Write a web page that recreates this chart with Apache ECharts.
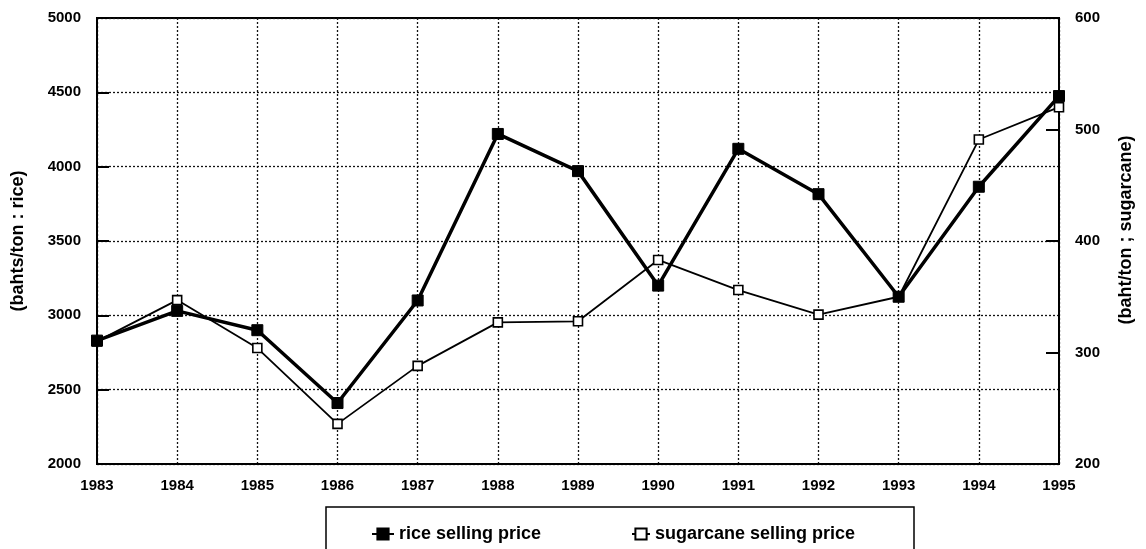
<!DOCTYPE html>
<html>
<head>
<meta charset="utf-8">
<script src="https://cdn.jsdelivr.net/npm/echarts@6/dist/echarts.min.js"></script>
<style>
  html, body { margin: 0; padding: 0; background: #fff; }
  #chart { width: 1146px; height: 549px; }
</style>
</head>
<body>
<div id="chart"></div>
<script>
  // data
  const years = ['1983', '1984', '1985', '1986', '1987', '1988', '1989', '1990', '1991', '1992', '1993', '1994', '1995'];
  const ricePrice = [2830, 3030, 2900, 2410, 3100, 4220, 3970, 3200, 4120, 3815, 3125, 3865, 4475];
  const sugarcanePrice = [310, 347, 304, 236, 288, 327, 328, 383, 356, 334, 350, 491, 520];

  const FONT = '"Liberation Sans", Arial, sans-serif';
  const chart = echarts.init(document.getElementById('chart'));

  const tickLabel = { color: '#000', fontFamily: FONT, fontWeight: 'bold', fontSize: 15, formatter: v => String(v) };
  const dotted = { show: true, lineStyle: { color: '#111', width: 1.3, type: [2, 2] } };
  const legendText = { color: '#000', fontFamily: FONT, fontWeight: 'bold', fontSize: 18 };

  const option = {
    backgroundColor: '#fff',
    animation: false,
    grid: {
      left: 97, right: 87, top: 18, bottom: 85,
      show: true, borderColor: '#000', borderWidth: 2
    },
    // two legends so each item sits where it does in the scan
    legend: [
      {
        left: 366, top: 520, itemWidth: 22, itemHeight: 14,
        data: ['rice selling price'],
        textStyle: legendText
      },
      {
        left: 626, top: 520, itemWidth: 18, itemHeight: 14,
        data: ['sugarcane selling price'],
        textStyle: legendText
      }
    ],
    graphic: [{
      type: 'rect',
      shape: { x: 326, y: 507, width: 588, height: 60 },
      style: { fill: 'none', stroke: '#000', lineWidth: 1.5 },
      silent: true
    }],
    xAxis: {
      type: 'category',
      data: years,
      boundaryGap: false,
      axisLine: { lineStyle: { color: '#000', width: 2 } },
      axisTick: { show: false },
      axisLabel: Object.assign({}, tickLabel, { margin: 14 }),
      splitLine: dotted
    },
    yAxis: [
      {
        type: 'value',
        min: 2000, max: 5000, interval: 500,
        name: '(bahts/ton : rice)',
        nameLocation: 'middle', nameRotate: 90, nameGap: 70,
        nameTextStyle: { color: '#000', fontFamily: FONT, fontWeight: 'bold', fontSize: 18 },
        axisLine: { show: true, lineStyle: { color: '#000', width: 2 } },
        axisTick: { show: true, inside: true, length: 12, lineStyle: { color: '#000', width: 2 } },
        axisLabel: Object.assign({}, tickLabel, { margin: 16 }),
        splitLine: dotted
      },
      {
        type: 'value',
        position: 'right',
        min: 200, max: 600, interval: 100,
        name: '(baht/ton ; sugarcane)',
        nameLocation: 'middle', nameRotate: 90, nameGap: 58,
        nameTextStyle: { color: '#000', fontFamily: FONT, fontWeight: 'bold', fontSize: 18, padding: [0, 0, 0, 22] },
        axisLine: { show: true, lineStyle: { color: '#000', width: 2 } },
        axisTick: { show: true, inside: true, length: 13, lineStyle: { color: '#000', width: 2 } },
        axisLabel: Object.assign({}, tickLabel, { margin: 16 }),
        splitLine: { show: false }
      }
    ],
    series: [
      {
        name: 'sugarcane selling price',
        type: 'line',
        yAxisIndex: 1,
        data: sugarcanePrice,
        symbol: 'rect',
        symbolSize: 9,
        lineStyle: { color: '#000', width: 1.8 },
        itemStyle: { color: '#fff', borderColor: '#000', borderWidth: 1.6 },
        z: 2
      },
      {
        name: 'rice selling price',
        type: 'line',
        yAxisIndex: 0,
        data: ricePrice,
        symbol: 'rect',
        symbolSize: 11,
        lineStyle: { color: '#000', width: 3.5 },
        itemStyle: { color: '#000', borderColor: '#000', borderWidth: 1 },
        z: 3
      }
    ]
  };

  chart.setOption(option);
</script>
</body>
</html>
